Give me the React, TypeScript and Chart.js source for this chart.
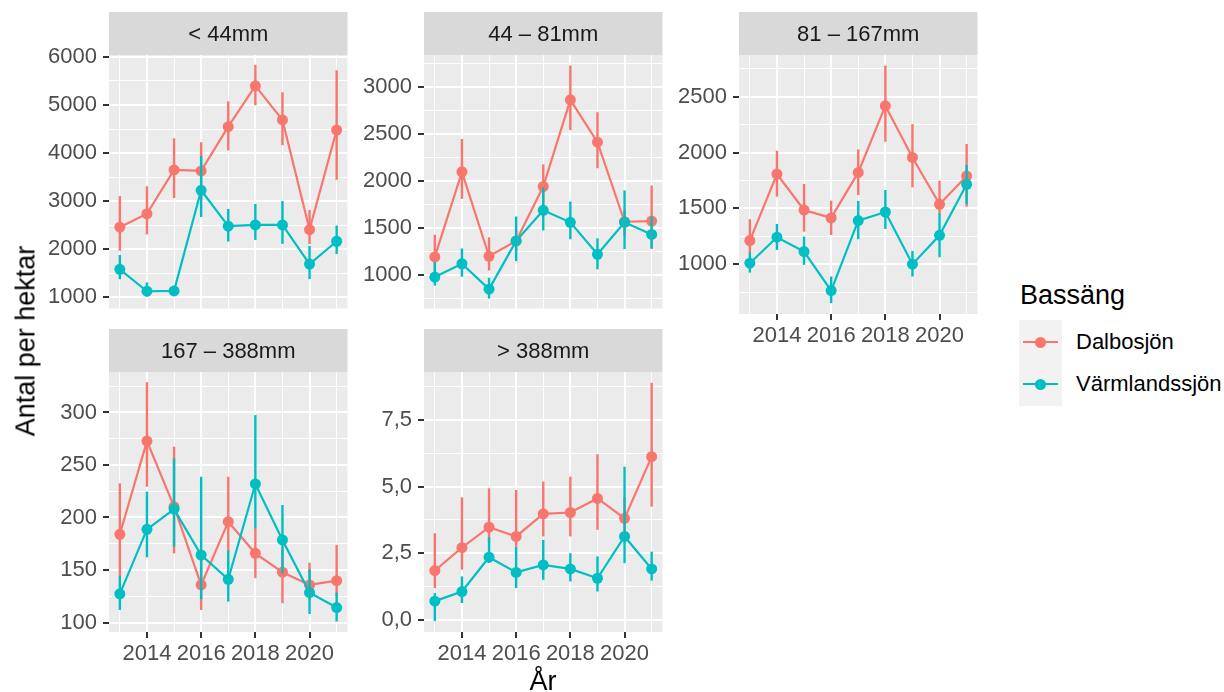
import React, { useEffect, useRef } from 'react';
import { Chart, registerables } from 'chart.js';

Chart.register(...registerables);

const FONT = '"Liberation Sans", Arial, Helvetica, sans-serif';
Chart.defaults.font.family = FONT;

// ---------- data ----------
const years = [2013, 2014, 2015, 2016, 2017, 2018, 2019, 2020, 2021];
const xMajorTicks = [2014, 2016, 2018, 2020];
const xMinorTicks = [2013, 2015, 2017, 2019, 2021];
const xTickLabels = ['2014', '2016', '2018', '2020'];

const seriesNames = ['Dalbosjön', 'Värmlandssjön'];
const seriesColors = ['#F8766D', '#00BFC4'];
const panelTitles = ['< 44mm', '44 – 81mm', '81 – 167mm', '167 – 388mm', '> 388mm'];

// < 44mm
const p1DalMean = [2460, 2740, 3650, 3630, 4550, 5400, 4690, 2410, 4480];
const p1DalLow = [1970, 2310, 3065, 3040, 4057, 4995, 4166, 2107, 3446];
const p1DalHigh = [3106, 3310, 4308, 4227, 5076, 5837, 5266, 2821, 5721];
const p1VarMean = [1584, 1129, 1136, 3228, 2481, 2508, 2508, 1693, 2168];
const p1VarLow = [1380, 1020, 1090, 2671, 2162, 2196, 2114, 1380, 1904];
const p1VarHigh = [1883, 1312, 1180, 3942, 2841, 2943, 3004, 2073, 2495];
const p1YMajor = [1000, 2000, 3000, 4000, 5000, 6000];
const p1YMinor = [1500, 2500, 3500, 4500, 5500];
const p1YLabels = ['1000', '2000', '3000', '4000', '5000', '6000'];

// 44 – 81mm
const p2DalMean = [1194, 2099, 1201, 1364, 1943, 2865, 2414, 1568, 1575];
const p2DalLow = [1049, 1811, 1049, 1250, 1711, 2542, 2137, 1420, 1277];
const p2DalHigh = [1430, 2449, 1402, 1480, 2178, 3229, 2733, 1690, 1953];
const p2VarMean = [979, 1121, 851, 1364, 1690, 1562, 1222, 1562, 1433];
const p2VarLow = [889, 983, 750, 1149, 1475, 1381, 1062, 1277, 1288];
const p2VarHigh = [1139, 1284, 972, 1624, 1936, 1783, 1392, 1901, 1624];
const p2YMajor = [1000, 1500, 2000, 2500, 3000];
const p2YMinor = [750, 1250, 1750, 2250, 2750, 3250];
const p2YLabels = ['1000', '1500', '2000', '2500', '3000'];

// 81 – 167mm
const p3DalMean = [1212, 1808, 1486, 1415, 1823, 2420, 1957, 1537, 1790];
const p3DalLow = [1098, 1605, 1292, 1262, 1620, 2098, 1689, 1450, 1516];
const p3DalHigh = [1403, 2017, 1719, 1570, 2029, 2780, 2256, 1749, 2077];
const p3VarMean = [1009, 1242, 1113, 764, 1391, 1468, 1000, 1259, 1716];
const p3VarLow = [925, 1128, 994, 651, 1224, 1316, 890, 1063, 1540];
const p3VarHigh = [1104, 1361, 1248, 890, 1567, 1665, 1119, 1456, 1889];
const p3YMajor = [1000, 1500, 2000, 2500];
const p3YMinor = [750, 1250, 1750, 2250, 2750];
const p3YLabels = ['1000', '1500', '2000', '2500'];

// 167 – 388mm
const p4DalMean = [184, 272.7, 210.3, 135.8, 196, 165.9, 147.9, 135.8, 139.9];
const p4DalLow = [143.7, 229.3, 165.9, 112, 167.5, 142.2, 118.4, 121.6, 124.7];
const p4DalHigh = [232.5, 328.8, 267.4, 169, 238.8, 190.6, 169.1, 157, 173.9];
const p4VarMean = [127.3, 188.7, 208, 164.3, 141.2, 231.9, 178.6, 128.5, 114.3];
const p4VarLow = [112, 162.1, 172.3, 122.2, 120, 189.7, 146.9, 108.2, 101];
const p4VarHigh = [144.4, 224.6, 256.3, 238.8, 168.5, 297.5, 211.9, 150.7, 128.5];
const p4YMajor = [100, 150, 200, 250, 300];
const p4YMinor = [125, 175, 225, 275, 325];
const p4YLabels = ['100', '150', '200', '250', '300'];

// > 388mm
const p5DalMean = [1.85, 2.71, 3.48, 3.13, 3.98, 4.03, 4.56, 3.81, 6.13];
const p5DalLow = [1.19, 1.88, 2.9, 2.75, 3.13, 3.13, 3.38, 3.1, 4.25];
const p5DalHigh = [3.25, 4.6, 4.94, 4.88, 5.19, 5.38, 6.22, 4.6, 8.9];
const p5VarMean = [0.7, 1.06, 2.35, 1.78, 2.06, 1.91, 1.56, 3.13, 1.91];
const p5VarLow = [-0.05, 0.63, 2.13, 1.19, 1.5, 1.44, 1.06, 2.13, 1.47];
const p5VarHigh = [1.0, 1.63, 3.1, 2.75, 3.0, 2.5, 2.38, 5.75, 2.56];
const p5YMajor = [0, 2.5, 5, 7.5];
const p5YMinor = [1.25, 3.75, 6.25, 8.75];
const p5YLabels = ['0,0', '2,5', '5,0', '7,5'];

// ---------- layout ----------
const STRIP_H = 43;
const Y_AXIS_W = 72;
const X_AXIS_H = 40;
const PLOT_W = 240;
const RIGHT_PAD = 4;
const COL_LEFT = [109, 424, 739];
const ROW_TOP = [55, 372];
const ROW_H = [259, 260];
const TICK_FONT = 22;

type PanelCfg = {
  title: string;
  mean: number[][];
  low: number[][];
  high: number[][];
  yMajor: number[];
  yMinor: number[];
  yLabels: string[];
  yMin: number;
  yMax: number;
  col: number;
  row: number;
  showX: boolean;
};

const panels: PanelCfg[] = [
  { title: panelTitles[0], mean: [p1DalMean, p1VarMean], low: [p1DalLow, p1VarLow], high: [p1DalHigh, p1VarHigh],
    yMajor: p1YMajor, yMinor: p1YMinor, yLabels: p1YLabels, yMin: 770, yMax: 6040, col: 0, row: 0, showX: false },
  { title: panelTitles[1], mean: [p2DalMean, p2VarMean], low: [p2DalLow, p2VarLow], high: [p2DalHigh, p2VarHigh],
    yMajor: p2YMajor, yMinor: p2YMinor, yLabels: p2YLabels, yMin: 645, yMax: 3342, col: 1, row: 0, showX: false },
  { title: panelTitles[2], mean: [p3DalMean, p3VarMean], low: [p3DalLow, p3VarLow], high: [p3DalHigh, p3VarHigh],
    yMajor: p3YMajor, yMinor: p3YMinor, yLabels: p3YLabels, yMin: 554, yMax: 2875, col: 2, row: 0, showX: true },
  { title: panelTitles[3], mean: [p4DalMean, p4VarMean], low: [p4DalLow, p4VarLow], high: [p4DalHigh, p4VarHigh],
    yMajor: p4YMajor, yMinor: p4YMinor, yLabels: p4YLabels, yMin: 91, yMax: 338.5, col: 0, row: 1, showX: true },
  { title: panelTitles[4], mean: [p5DalMean, p5VarMean], low: [p5DalLow, p5VarLow], high: [p5DalHigh, p5VarHigh],
    yMajor: p5YMajor, yMinor: p5YMinor, yLabels: p5YLabels, yMin: -0.46, yMax: 9.31, col: 1, row: 1, showX: true },
];

function Panel({ cfg }: { cfg: PanelCfg }) {
  const ref = useRef<HTMLCanvasElement>(null);
  const left = COL_LEFT[cfg.col] - Y_AXIS_W;
  const top = ROW_TOP[cfg.row] - STRIP_H;
  const width = Y_AXIS_W + PLOT_W + RIGHT_PAD;
  const height = STRIP_H + ROW_H[cfg.row] + (cfg.showX ? X_AXIS_H : 0);

  useEffect(() => {
    const canvas = ref.current;
    if (!canvas) return;
    const isXMajor = (v: any) => xMajorTicks.includes(v);
    const isYMajor = (v: any) => cfg.yMajor.includes(v);

    const decor = {
      id: 'panelDecor',
      beforeDraw(chart: any) {
        const { ctx, chartArea: a } = chart;
        ctx.save();
        ctx.fillStyle = '#EBEBEB';
        ctx.fillRect(a.left, a.top, a.right - a.left, a.bottom - a.top);
        ctx.fillStyle = '#D9D9D9';
        ctx.fillRect(a.left, a.top - STRIP_H, a.right - a.left, STRIP_H);
        ctx.fillStyle = '#1A1A1A';
        ctx.font = `${TICK_FONT}px ${FONT}`;
        ctx.textAlign = 'center';
        ctx.textBaseline = 'middle';
        ctx.fillText(cfg.title, (a.left + a.right) / 2, a.top - STRIP_H / 2 + 1);
        ctx.restore();
      },
      afterDatasetsDraw(chart: any) {
        const { ctx } = chart;
        const xs = chart.scales.x;
        const ys = chart.scales.y;
        ctx.save();
        ctx.lineWidth = 2.4;
        ctx.lineCap = 'butt';
        chart.data.datasets.forEach((ds: any) => {
          ctx.strokeStyle = ds.borderColor;
          years.forEach((yr, i) => {
            const x = xs.getPixelForValue(yr);
            ctx.beginPath();
            ctx.moveTo(x, ys.getPixelForValue(ds.errLow[i]));
            ctx.lineTo(x, ys.getPixelForValue(ds.errHigh[i]));
            ctx.stroke();
          });
        });
        ctx.restore();
      },
    };

    const chart = new Chart(canvas, {
      type: 'line',
      data: {
        datasets: [0, 1].map((s) => ({
          label: seriesNames[s],
          data: years.map((y, i) => ({ x: y, y: cfg.mean[s][i] })),
          borderColor: seriesColors[s],
          backgroundColor: seriesColors[s],
          pointBackgroundColor: seriesColors[s],
          pointBorderWidth: 0,
          pointRadius: 5.5,
          borderWidth: 2.2,
          tension: 0,
          order: 1 - s,
          errLow: cfg.low[s],
          errHigh: cfg.high[s],
        })) as any,
      },
      options: {
        responsive: false,
        animation: false,
        events: [],
        layout: { padding: { top: STRIP_H, right: RIGHT_PAD, left: 0, bottom: 0 } },
        plugins: { legend: { display: false }, tooltip: { enabled: false } },
        scales: {
          x: {
            type: 'linear',
            min: 2012.6,
            max: 2021.4,
            bounds: 'data',
            afterBuildTicks: (s: any) => {
              s.ticks = [...xMinorTicks, ...xMajorTicks].sort((a, b) => a - b).map((v) => ({ value: v }));
            },
            afterFit: (s: any) => {
              s.height = cfg.showX ? X_AXIS_H : 0;
              s.paddingLeft = 0;
              s.paddingRight = 0;
            },
            border: { display: false },
            grid: {
              color: '#FFFFFF',
              lineWidth: (c: any) => (isXMajor(c.tick?.value) ? 2 : 1),
              drawTicks: cfg.showX,
              tickLength: 6,
              tickColor: (c: any) => (isXMajor(c.tick?.value) ? '#333333' : 'rgba(0,0,0,0)'),
              tickWidth: (c: any) => (isXMajor(c.tick?.value) ? 2 : 1),
            },
            ticks: {
              display: cfg.showX,
              autoSkip: false,
              maxRotation: 0,
              minRotation: 0,
              padding: 3,
              color: '#4D4D4D',
              font: { size: TICK_FONT, family: FONT },
              callback: (v: any) => {
                const i = xMajorTicks.indexOf(v);
                return i >= 0 ? xTickLabels[i] : '';
              },
            },
          } as any,
          y: {
            type: 'linear',
            min: cfg.yMin,
            max: cfg.yMax,
            bounds: 'data',
            afterBuildTicks: (s: any) => {
              s.ticks = [...cfg.yMinor, ...cfg.yMajor].sort((a, b) => a - b).map((v) => ({ value: v }));
            },
            afterFit: (s: any) => {
              s.width = Y_AXIS_W;
              s.paddingTop = 0;
              s.paddingBottom = 0;
            },
            border: { display: false },
            grid: {
              color: '#FFFFFF',
              lineWidth: (c: any) => (isYMajor(c.tick?.value) ? 2 : 1),
              drawTicks: true,
              tickLength: 6,
              tickColor: (c: any) => (isYMajor(c.tick?.value) ? '#333333' : 'rgba(0,0,0,0)'),
              tickWidth: (c: any) => (isYMajor(c.tick?.value) ? 2 : 1),
            },
            ticks: {
              autoSkip: false,
              padding: 6,
              color: '#4D4D4D',
              font: { size: TICK_FONT, family: FONT },
              callback: (v: any) => {
                const i = cfg.yMajor.indexOf(v);
                return i >= 0 ? cfg.yLabels[i] : '';
              },
            },
          } as any,
        },
      },
      plugins: [decor],
    });
    return () => chart.destroy();
  }, []);

  return (
    <canvas
      ref={ref}
      width={width}
      height={height}
      style={{ position: 'absolute', left, top, width, height, display: 'block' }}
    />
  );
}

function LegendKey({ color, top }: { color: string; top: number }) {
  return (
    <>
      <div style={{ position: 'absolute', left: 1023, top: top - 1, width: 35, height: 2, background: color }} />
      <div
        style={{
          position: 'absolute',
          left: 1040 - 5.5,
          top: top - 5.5,
          width: 11,
          height: 11,
          borderRadius: '50%',
          background: color,
        }}
      />
    </>
  );
}

export default function App() {
  return (
    <div
      style={{
        position: 'fixed',
        left: 0,
        top: 0,
        width: 1224,
        height: 692,
        background: '#FFFFFF',
        overflow: 'hidden',
        fontFamily: FONT,
      }}
    >
      {panels.map((p, i) => (
        <Panel key={i} cfg={p} />
      ))}

      {/* axis titles */}
      <div
        style={{
          position: 'absolute',
          left: 26,
          top: 341,
          transform: 'translate(-50%, -50%) rotate(-90deg)',
          fontSize: 27,
          lineHeight: '27px',
          whiteSpace: 'nowrap',
          color: '#000000',
        }}
      >
        Antal per hektar
      </div>
      <div
        style={{
          position: 'absolute',
          left: 543,
          top: 668,
          transform: 'translateX(-50%)',
          fontSize: 27,
          lineHeight: '27px',
          whiteSpace: 'nowrap',
          color: '#000000',
        }}
      >
        År
      </div>

      {/* legend */}
      <div style={{ position: 'absolute', left: 1020, top: 282, fontSize: 27, lineHeight: '27px', color: '#000000', whiteSpace: 'nowrap' }}>
        Bassäng
      </div>
      <div style={{ position: 'absolute', left: 1019, top: 320, width: 43, height: 86, background: '#F2F2F2' }} />
      <LegendKey color={seriesColors[0]} top={342} />
      <LegendKey color={seriesColors[1]} top={384} />
      <div style={{ position: 'absolute', left: 1076, top: 342, transform: 'translateY(-50%)', fontSize: TICK_FONT, lineHeight: `${TICK_FONT}px`, color: '#000000', whiteSpace: 'nowrap' }}>
        {seriesNames[0]}
      </div>
      <div style={{ position: 'absolute', left: 1076, top: 384, transform: 'translateY(-50%)', fontSize: TICK_FONT, lineHeight: `${TICK_FONT}px`, color: '#000000', whiteSpace: 'nowrap' }}>
        {seriesNames[1]}
      </div>
    </div>
  );
}
